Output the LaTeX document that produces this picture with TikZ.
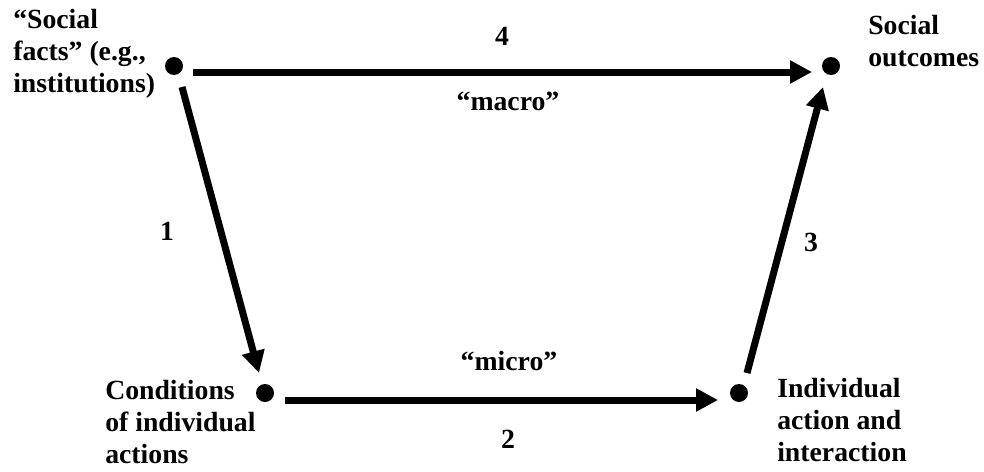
\documentclass[tikz,border=0pt]{standalone}
\usepackage{fontspec}
\setmainfont{Liberation Serif}
\usetikzlibrary{arrows.meta}
\begin{document}
\begin{tikzpicture}[x=0.75pt,y=-0.75pt,
  dot/.style={circle,fill=black,inner sep=0pt,minimum size=13.5pt},
  arr/.style={line width=5.25pt,-{Triangle[length=16.5pt,width=16.5pt]}},
  lbl/.style={font=\fontsize{20.8}{24}\selectfont\bfseries,inner sep=0pt},
  blk/.style={lbl,anchor=north west,align=left},
  num/.style={lbl,anchor=base}]
\useasboundingbox (0,0) rectangle (984,471);
% dots
\node[dot] (sf) at (174,66) {};
\node[dot] (so) at (831,66) {};
\node[dot] (cl) at (265,393) {};
\node[dot] (ia) at (739,393) {};
% texts
\node[blk] (tsf) at (13,9) {“Social\\facts” (e.g.,\\institutions)};
\node[blk] (tso) at (868,15) {Social\\outcomes};
\node[blk] (tcl) at (105,380) {Conditions\\of individual\\actions};
\node[blk] (tia) at (777,378) {Individual\\action and\\interaction};
% arrows
\draw[arr] ([shift={(19,6)}]sf.center) -- ([shift={(-19,6)}]so.center);
\draw[arr] ([shift={(8,21)}]sf.center) -- ([shift={(-6,-20)}]cl.center);
\draw[arr] ([shift={(20,7)}]cl.center) -- ([shift={(-21,7)}]ia.center);
\draw[arr] ([shift={(8,-20)}]ia.center) -- ([shift={(-8,21)}]so.center);
% labels
\node[num] (n4) at (502,45) {4};
\node[num] (nmacro) at (508,110) {“macro”};
\node[num] (n1) at (167,240) {1};
\node[num] (n3) at (811,251) {3};
\node[num] (nmicro) at (509,370) {“micro”};
\node[num] (n2) at (508,448) {2};
\end{tikzpicture}
\end{document}
